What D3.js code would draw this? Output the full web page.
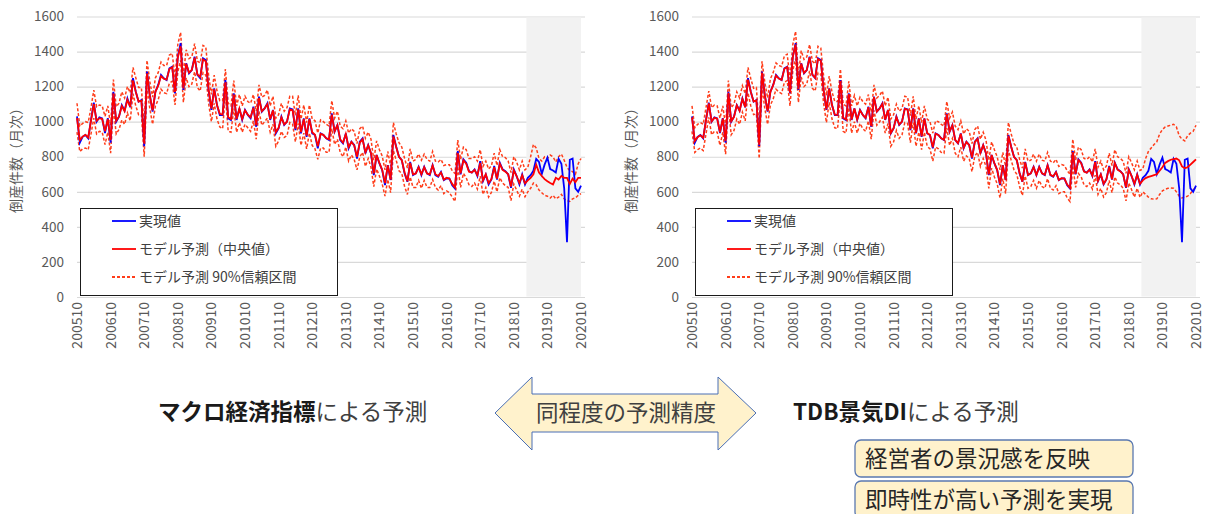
<!DOCTYPE html>
<html>
<head>
<meta charset="utf-8">
<script src="https://cdn.jsdelivr.net/npm/d3@7"></script>
<style>
  body { margin: 0; background: #fff; }
  svg { font-family: "Noto Sans CJK JP", "Noto Sans", sans-serif; }
</style>
</head>
<body>
<div id="chart"></div>
<script>
// monthly categories 2005-10 .. 2020-10
var startMonth = new Date(2005, 9, 1),
    endMonth = new Date(2020, 10, 1);
var tickLabels = ['200510', '200610', '200710', '200810', '200910', '201010', '201110', '201210',
                  '201310', '201410', '201510', '201610', '201710', '201810', '201910', '202010'];
var yTicks = [0, 200, 400, 600, 800, 1000, 1200, 1400, 1600];
var shadeStart = '201903';

// 実現値
var actual = [
  1030, 880, 914, 924, 905, 1010, 1108, 1000, 1025, 1019,
  935, 1020, 880, 1171, 1000, 1029, 1095, 1063, 1133, 1082,
  1248, 1171, 1114, 1124, 860, 1286, 1152, 1057, 1171, 1210,
  1267, 1248, 1238, 1305, 1314, 1162, 1371, 1448, 1181, 1333,
  1276, 1295, 1371, 1267, 1248, 1362, 1352, 1180, 1067, 1190,
  1095, 1038, 1038, 1238, 1019, 1010, 1162, 1010, 1076, 1010,
  1067, 1038, 1019, 1086, 971, 1143, 1057, 1076, 1105, 1010,
  1067, 933, 962, 1029, 981, 1000, 1076, 1070, 952, 1076,
  933, 1019, 914, 1019, 933, 924, 848, 933, 924, 905,
  895, 1048, 943, 981, 895, 876, 933, 848, 886, 867,
  790, 886, 905, 819, 867, 819, 695, 810, 762, 724,
  638, 752, 667, 924, 857, 800, 781, 705, 657, 771,
  695, 705, 743, 695, 743, 705, 695, 752, 695, 686,
  714, 667, 676, 676, 638, 619, 832, 699, 785, 766,
  718, 709, 728, 690, 775, 661, 699, 642, 670, 747,
  670, 766, 728, 718, 699, 623, 728, 690, 642, 699,
  642, 680, 695, 720, 788, 770, 702, 755, 795, 730,
  722, 710, 788, 760, 620, 312, 783, 790, 620, 600,
  635
];

// マクロ経済指標モデル
var macroMid = [
  1020, 895, 915, 925, 910, 1005, 1100, 1005, 1020, 1015,
  945, 1015, 895, 1160, 1005, 1030, 1090, 1060, 1125, 1085,
  1235, 1170, 1115, 1120, 875, 1275, 1150, 1065, 1170, 1205,
  1260, 1245, 1240, 1300, 1310, 1170, 1365, 1430, 1190, 1330,
  1280, 1295, 1365, 1270, 1255, 1355, 1345, 1185, 1075, 1185,
  1095, 1045, 1040, 1225, 1025, 1015, 1155, 1015, 1075, 1015,
  1065, 1040, 1025, 1080, 980, 1135, 1060, 1075, 1100, 1015,
  1065, 940, 965, 1025, 985, 1000, 1070, 1065, 960, 1070,
  940, 1015, 920, 1015, 940, 925, 860, 930, 925, 905,
  900, 1040, 945, 980, 900, 880, 930, 855, 885, 865,
  800, 880, 900, 825, 865, 820, 705, 810, 765, 725,
  650, 750, 670, 915, 855, 800, 780, 710, 660, 765,
  700, 705, 740, 700, 740, 705, 700, 750, 700, 690,
  710, 670, 680, 675, 645, 625, 820, 705, 780, 760,
  715, 710, 725, 695, 765, 665, 700, 650, 672, 740,
  675, 760, 725, 715, 700, 630, 722, 690, 650, 695,
  648, 665, 680, 700, 755, 710, 690, 672, 660, 650,
  642, 680, 670, 690, 680, 680, 645, 675, 655, 680,
  680
];
var macroHi = [
  1105, 975, 990, 1000, 995, 1080, 1180, 1085, 1095, 1090,
  1030, 1090, 980, 1240, 1085, 1105, 1170, 1135, 1200, 1165,
  1310, 1250, 1195, 1195, 960, 1350, 1230, 1140, 1250, 1280,
  1340, 1320, 1320, 1380, 1390, 1250, 1440, 1510, 1270, 1410,
  1360, 1370, 1445, 1345, 1335, 1435, 1425, 1265, 1155, 1265,
  1175, 1120, 1120, 1300, 1105, 1090, 1235, 1090, 1155, 1090,
  1145, 1115, 1105, 1155, 1060, 1210, 1140, 1150, 1180, 1090,
  1145, 1020, 1040, 1105, 1060, 1080, 1145, 1145, 1035, 1150,
  1015, 1095, 995, 1095, 1015, 1005, 935, 1010, 1000, 985,
  975, 1120, 1020, 1060, 975, 960, 1005, 935, 960, 945,
  875, 960, 975, 905, 940, 900, 780, 890, 840, 805,
  725, 830, 745, 995, 930, 880, 855, 790, 735, 845,
  775, 785, 815, 780, 815, 785, 775, 830, 775, 770,
  785, 750, 755, 755, 720, 705, 895, 785, 855, 840,
  790, 790, 800, 775, 840, 745, 775, 730, 748, 820,
  750, 840, 800, 795, 775, 710, 800, 770, 725, 775,
  725, 740, 800, 870, 850, 790, 775, 800, 790, 810,
  800, 770, 800, 815, 780, 740, 720, 715, 700, 760,
  790
];
var macroLo = [
  940, 830, 845, 850, 840, 930, 1020, 930, 945, 940,
  870, 940, 820, 1080, 930, 955, 1010, 985, 1050, 1005,
  1160, 1090, 1040, 1040, 800, 1195, 1075, 985, 1090, 1125,
  1185, 1165, 1160, 1220, 1230, 1095, 1285, 1350, 1110, 1250,
  1200, 1215, 1285, 1195, 1175, 1280, 1265, 1105, 1000, 1105,
  1015, 970, 960, 1150, 945, 940, 1075, 940, 995, 940,
  985, 965, 945, 1005, 900, 1060, 980, 1000, 1020, 940,
  985, 860, 890, 945, 910, 920, 995, 985, 885, 990,
  865, 935, 845, 935, 865, 845, 785, 850, 850, 825,
  825, 960, 870, 900, 825, 800, 855, 775, 810, 785,
  725, 800, 825, 745, 790, 740, 630, 730, 690, 645,
  575, 670, 595, 835, 780, 720, 705, 630, 585, 685,
  625, 625, 665, 620, 665, 625, 625, 670, 625, 610,
  635, 590, 605, 595, 570, 545, 745, 625, 705, 680,
  640, 630, 650, 615, 690, 585, 625, 570, 597, 660,
  600, 680, 650, 635, 625, 550, 645, 610, 575, 615,
  572, 600, 620, 650, 640, 610, 595, 580, 575, 565,
  580, 560, 570, 585, 560, 550, 545, 560, 565, 580,
  590
];

// TDB景気DIモデル
var diMid = [
  1025, 890, 912, 922, 908, 1008, 1104, 1002, 1022, 1017,
  940, 1018, 890, 1165, 1002, 1028, 1093, 1062, 1130, 1083,
  1240, 1170, 1115, 1122, 868, 1280, 1150, 1060, 1170, 1208,
  1263, 1246, 1238, 1302, 1312, 1166, 1368, 1440, 1185, 1332,
  1278, 1294, 1368, 1268, 1250, 1358, 1348, 1182, 1070, 1188,
  1095, 1040, 1039, 1232, 1022, 1012, 1158, 1012, 1075, 1012,
  1066, 1039, 1022, 1083, 975, 1140, 1058, 1075, 1102, 1012,
  1066, 936, 963, 1027, 983, 1000, 1073, 1068, 956, 1073,
  936, 1017, 917, 1017, 936, 924, 854, 931, 924, 905,
  897, 1044, 944, 980, 897, 878, 931, 851, 885, 866,
  795, 883, 902, 822, 866, 820, 700, 810, 763, 724,
  644, 751, 668, 920, 856, 800, 780, 707, 658, 768,
  697, 705, 741, 697, 741, 705, 697, 751, 697, 688,
  712, 668, 678, 675, 641, 622, 826, 702, 782, 763,
  716, 709, 726, 692, 770, 663, 699, 646, 671, 743,
  672, 763, 726, 716, 699, 626, 725, 690, 646, 697,
  645, 665, 678, 685, 690, 695, 700, 720, 740, 765,
  775, 783, 787, 790, 780, 745, 735, 740, 755, 770,
  785
];
var diHi = [
  1090, 965, 985, 995, 985, 1080, 1175, 1080, 1095, 1090,
  1020, 1090, 975, 1235, 1080, 1100, 1170, 1135, 1205, 1160,
  1310, 1245, 1190, 1195, 950, 1345, 1225, 1135, 1245, 1280,
  1335, 1320, 1315, 1375, 1385, 1245, 1440, 1515, 1265, 1405,
  1355, 1370, 1440, 1345, 1330, 1430, 1420, 1260, 1150, 1260,
  1170, 1115, 1115, 1300, 1100, 1090, 1230, 1090, 1150, 1090,
  1140, 1115, 1100, 1155, 1055, 1210, 1135, 1150, 1175, 1090,
  1140, 1015, 1040, 1100, 1060, 1075, 1145, 1140, 1035, 1145,
  1015, 1090, 995, 1090, 1015, 1000, 935, 1005, 1000, 985,
  975, 1115, 1020, 1055, 975, 955, 1005, 930, 960, 945,
  875, 955, 975, 900, 940, 895, 780, 885, 840, 800,
  725, 825, 745, 995, 930, 875, 855, 785, 735, 845,
  775, 780, 815, 775, 815, 780, 775, 825, 775, 765,
  785, 745, 755, 750, 720, 700, 900, 780, 855, 840,
  790, 785, 800, 770, 845, 740, 775, 725, 748, 820,
  750, 840, 800, 790, 775, 705, 800, 765, 725, 775,
  722, 730, 790, 830, 850, 870, 885, 930, 955, 970,
  975, 980, 985, 970, 920, 900, 890, 920, 935, 945,
  980
];
var diLo = [
  945, 825, 840, 850, 835, 930, 1025, 925, 945, 940,
  865, 940, 815, 1085, 925, 950, 1015, 985, 1055, 1005,
  1165, 1090, 1040, 1045, 790, 1200, 1075, 985, 1095, 1130,
  1185, 1170, 1160, 1225, 1235, 1090, 1290, 1360, 1110, 1255,
  1200, 1215, 1290, 1190, 1175, 1280, 1270, 1105, 995, 1110,
  1015, 965, 960, 1155, 945, 935, 1080, 935, 1000, 935,
  990, 960, 945, 1005, 900, 1065, 980, 1000, 1025, 935,
  990, 860, 885, 950, 905, 925, 995, 990, 880, 995,
  860, 940, 840, 940, 860, 845, 775, 855, 845, 825,
  820, 965, 865, 905, 820, 800, 855, 775, 805, 790,
  715, 805, 825, 745, 790, 745, 620, 735, 685, 645,
  565, 675, 590, 840, 780, 725, 700, 630, 580, 690,
  620, 630, 665, 620, 665, 630, 620, 675, 620, 610,
  635, 590, 600, 600, 565, 545, 750, 625, 705, 685,
  640, 630, 650, 615, 695, 585, 620, 570, 595, 665,
  595, 685, 650, 640, 620, 548, 650, 612, 570, 620,
  568, 600, 585, 570, 560, 558, 560, 585, 605, 615,
  620, 622, 620, 600, 575, 565, 570, 575, 590, 610,
  630
];

var legendItems = [
  {label: '実現値', color: '#0000ff', dash: null},
  {label: 'モデル予測（中央値）', color: '#ff0000', dash: null},
  {label: 'モデル予測 90%信頼区間', color: '#ff3d1a', dash: '3,2'}
];

var fmt = d3.timeFormat('%Y%m');
var months = d3.timeMonth.range(startMonth, endMonth).map(fmt);

var width = 1205, height = 514;
var svg = d3.select('#chart').append('svg')
    .attr('width', width)
    .attr('height', height);

var y = d3.scaleLinear().domain([0, 1600]).range([297, 16.5]);

function drawChart(x0, mid, lo, hi) {
  var x = d3.scaleLinear().domain([0, months.length - 1]).range([x0, x0 + 504]);
  var g = svg.append('g');

  // gridlines
  g.append('g')
      .attr('transform', 'translate(' + x0 + ',0)')
      .call(d3.axisLeft(y).tickValues(yTicks).tickSize(-508).tickFormat(''))
      .call(function (s) { s.select('.domain').remove(); })
      .selectAll('line')
        .attr('stroke', '#d9d9d9')
        .attr('stroke-width', 1.2);

  // shaded forecast period
  var si = months.indexOf(shadeStart);
  g.append('rect')
      .attr('x', x(si - 0.5))
      .attr('y', y(1600) + 1)
      .attr('width', x(months.length - 1) - x(si - 0.5))
      .attr('height', y(0) - y(1600) - 1.5)
      .attr('fill', '#f2f2f2');

  // y tick labels
  g.selectAll('text.ytick')
    .data(yTicks)
    .enter().append('text')
      .attr('x', x0 - 13)
      .attr('y', function (d) { return y(d); })
      .attr('dy', '0.35em')
      .attr('text-anchor', 'end')
      .attr('fill', '#595959')
      .style('font-size', '13.5px')
      .text(function (d) { return d; });

  // x tick labels (rotated)
  g.selectAll('text.xtick')
    .data(tickLabels)
    .enter().append('text')
      .attr('transform', function (d) {
        return 'translate(' + x(months.indexOf(d)) + ',302) rotate(-90)';
      })
      .attr('dy', '0.35em')
      .attr('text-anchor', 'end')
      .attr('fill', '#595959')
      .style('font-size', '14px')
      .text(function (d) { return d; });

  // y axis title
  g.append('text')
      .attr('transform', 'translate(' + (x0 - 61) + ',157) rotate(-90)')
      .attr('dy', '0.35em')
      .attr('text-anchor', 'middle')
      .attr('fill', '#595959')
      .style('font-size', '14px')
      .text('倒産件数（月次）');

  var line = function (arr) {
    return d3.line()
      .x(function (d, i) { return x(i); })
      .y(function (d) { return y(d); })(arr);
  };

  [lo, hi].forEach(function (arr) {
    g.append('path')
        .attr('d', line(arr))
        .attr('fill', 'none')
        .attr('stroke', '#ff3d1a')
        .attr('stroke-width', 1.5)
        .attr('stroke-dasharray', '3,2');
  });
  g.append('path')
      .attr('d', line(actual))
      .attr('fill', 'none')
      .attr('stroke', '#0000ff')
      .attr('stroke-width', 1.8);
  g.append('path')
      .attr('d', line(mid))
      .attr('fill', 'none')
      .attr('stroke', '#ff0000')
      .attr('stroke-width', 1.8);

  // legend
  var lg = g.append('g').attr('transform', 'translate(' + (x0 + 3) + ',208)');
  lg.append('rect')
      .attr('x', 0.5).attr('y', 0.5)
      .attr('width', 257).attr('height', 87)
      .attr('fill', '#fff')
      .attr('stroke', '#1a1a1a')
      .attr('stroke-width', 1);
  var item = lg.selectAll('g.item')
    .data(legendItems)
    .enter().append('g')
      .attr('transform', function (d, i) { return 'translate(0,' + (13 + i * 28) + ')'; });
  item.append('line')
      .attr('x1', 32).attr('x2', 56)
      .attr('stroke', function (d) { return d.color; })
      .attr('stroke-width', 1.8)
      .attr('stroke-dasharray', function (d) { return d.dash; });
  item.append('text')
      .attr('x', 59)
      .attr('dy', '0.35em')
      .attr('fill', '#404040')
      .style('font-size', '14px')
      .text(function (d) { return d.label; });
}

drawChart(77, macroMid, macroLo, macroHi);
drawChart(692, diMid, diLo, diHi);

// bottom annotations
var bottom = svg.append('g').style('font-size', '22.5px');

var t1 = bottom.append('text').attr('x', 158).attr('y', 412).attr('dy', '0.35em');
t1.append('tspan').attr('font-weight', 'bold').attr('fill', '#1a1a1a').text('マクロ経済指標');
t1.append('tspan').attr('fill', '#404040').text('による予測');

var t2 = bottom.append('text').attr('x', 793).attr('y', 412).attr('dy', '0.35em');
t2.append('tspan').attr('font-weight', 'bold').attr('fill', '#1a1a1a').text('TDB景気DI');
t2.append('tspan').attr('fill', '#404040').text('による予測');

// double arrow
var arrowPts = [[495, 413], [532, 377], [532, 394], [718, 394], [718, 377], [756, 413],
                [718, 450], [718, 432], [532, 432], [532, 450]];
bottom.append('polygon')
    .attr('points', arrowPts.map(function (p) { return p.join(','); }).join(' '))
    .attr('fill', '#fff2cc')
    .attr('stroke', '#4a6fb5')
    .attr('stroke-width', 1);
bottom.append('text')
    .attr('x', 626).attr('y', 413).attr('dy', '0.35em')
    .attr('text-anchor', 'middle')
    .attr('fill', '#404040')
    .text('同程度の予測精度');

var notes = ['経営者の景況感を反映', '即時性が高い予測を実現'];
var nb = bottom.selectAll('g.note')
  .data(notes)
  .enter().append('g')
    .attr('transform', function (d, i) { return 'translate(855,' + (440 + i * 41) + ')'; });
nb.append('rect')
    .attr('width', 278).attr('height', 37)
    .attr('rx', 6)
    .attr('fill', '#fff2cc')
    .attr('stroke', '#5a78b0')
    .attr('stroke-width', 1.3);
nb.append('text')
    .attr('x', 10).attr('y', 19).attr('dy', '0.35em')
    .attr('fill', '#262626')
    .text(function (d) { return d; });
</script>
</body>
</html>
